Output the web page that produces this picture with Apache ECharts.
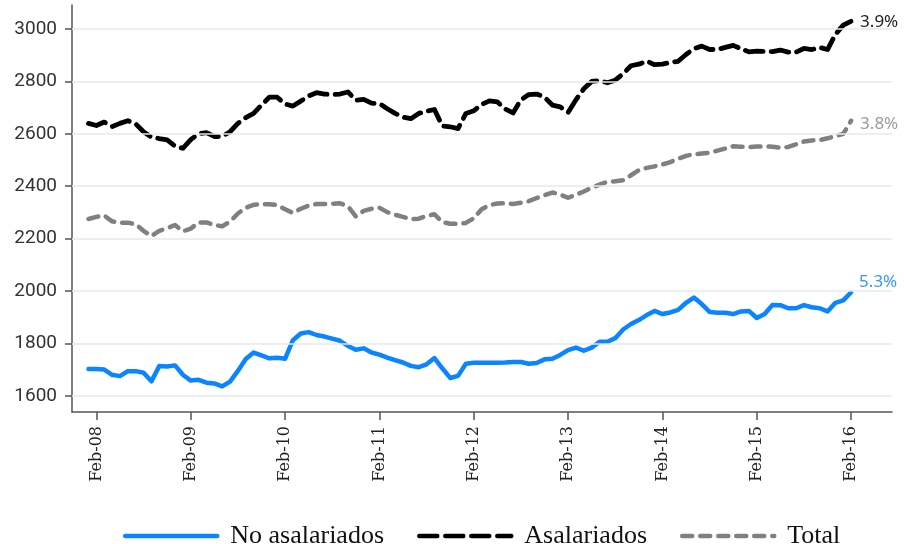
<!DOCTYPE html>
<html>
<head>
<meta charset="utf-8">
<script src="https://cdn.jsdelivr.net/npm/echarts@6/dist/echarts.min.js"></script>
<style>
  html, body { margin: 0; padding: 0; background: #fff; }
  #chart { width: 904px; height: 544px; }
</style>
</head>
<body>
<div id="chart"></div>
<script>
// Monthly series, January 2008 (index 0) to February 2016 (index 97)
const noAsalariados = [
  1702, 1702, 1700, 1680, 1675, 1694, 1694, 1688, 1655, 1714, 1712, 1716,
  1680, 1658, 1661, 1650, 1647, 1636, 1654, 1695, 1740, 1765, 1754, 1743,
  1745, 1741, 1812, 1838, 1843, 1832, 1826, 1818, 1810, 1790, 1776, 1781,
  1765, 1757, 1746, 1736, 1727, 1714, 1709, 1720, 1744, 1705, 1668, 1676,
  1722, 1726, 1726, 1726, 1726, 1727, 1729, 1729, 1722, 1725, 1739, 1741,
  1756, 1774, 1784, 1772, 1784, 1806, 1806, 1820, 1853, 1874, 1889, 1908,
  1924, 1912, 1918, 1928, 1955, 1975, 1950, 1920, 1917, 1917, 1912, 1922,
  1924, 1897, 1912, 1947, 1946, 1934, 1934, 1946, 1938, 1934, 1922, 1955,
  1964, 1995
];
const asalariados = [
  2640, 2632, 2645, 2628, 2640, 2650, 2638, 2608, 2588, 2582, 2577, 2553,
  2545, 2578, 2600, 2605, 2590, 2590, 2608, 2640, 2662, 2678, 2710, 2740,
  2740, 2714, 2706, 2725, 2745, 2757, 2752, 2750, 2752, 2760, 2728, 2732,
  2717, 2716, 2696, 2678, 2664, 2658, 2678, 2686, 2693, 2630, 2627, 2620,
  2678, 2688, 2712, 2726, 2722, 2695, 2680, 2730, 2750, 2752, 2740, 2710,
  2703, 2682, 2730, 2772, 2800, 2803, 2795, 2805, 2830, 2860, 2866, 2878,
  2864, 2866, 2873, 2877, 2903, 2925, 2935, 2922, 2922, 2930, 2938, 2925,
  2913, 2916, 2915, 2914, 2920, 2912, 2912, 2926, 2922, 2930, 2922, 2980,
  3015, 3030
];
const total = [
  2275, 2283, 2288, 2266, 2261, 2261, 2255, 2230, 2210, 2230, 2240, 2252,
  2228, 2238, 2262, 2262, 2252, 2247, 2265, 2296, 2318, 2329, 2331, 2331,
  2328, 2312, 2298, 2314, 2326, 2332, 2332, 2333, 2335, 2323, 2285, 2306,
  2314, 2318, 2301, 2291, 2283, 2275, 2276, 2287, 2293, 2263, 2257, 2256,
  2260, 2278, 2312, 2328, 2334, 2335, 2332, 2337, 2343, 2355, 2366, 2376,
  2368, 2356, 2367, 2380, 2394, 2406, 2417, 2419, 2423, 2442, 2461, 2470,
  2476, 2483, 2492, 2505, 2516, 2522, 2525, 2528, 2536, 2544, 2553, 2551,
  2549, 2552, 2552, 2551, 2547, 2550, 2560, 2571, 2575, 2576, 2583, 2591,
  2600, 2650
];

// Axis ticks: x in months since January 2008
const xTickMonths = [1, 13, 25, 37, 49, 61, 73, 85, 97];
const xTickLabels = ['Feb-08', 'Feb-09', 'Feb-10', 'Feb-11', 'Feb-12', 'Feb-13', 'Feb-14', 'Feb-15', 'Feb-16'];
const yTicks = [1600, 1800, 2000, 2200, 2400, 2600, 2800, 3000];

// Growth labels at the end of each line
const seriesNames = ['No asalariados', 'Asalariados', 'Total'];
const endLabels = ['5.3%', '3.9%', '3.8%'];

const pairs = arr => arr.map((v, i) => [i, v]);

const chart = echarts.init(document.getElementById('chart'), null, { renderer: 'canvas' });

const axisColor = '#555';

const option = {
  animation: false,
  backgroundColor: '#fff',
  grid: { left: 72, right: 12, top: 5, bottom: 132, containLabel: false },
  xAxis: {
    type: 'value',
    min: -2.1,
    max: 102.2,
    axisLine: { show: true, onZero: false, lineStyle: { color: axisColor, width: 1.5 } },
    axisTick: { show: true, customValues: xTickMonths, length: 8, lineStyle: { color: axisColor, width: 1.5 } },
    axisLabel: {
      customValues: xTickMonths,
      rotate: 90,
      margin: 14,
      fontFamily: 'DejaVu Serif',
      fontSize: 16,
      color: '#222',
      formatter: v => xTickLabels[xTickMonths.indexOf(Math.round(v))] || ''
    },
    splitLine: { show: false }
  },
  yAxis: {
    type: 'value',
    min: 1538,
    max: 3092,
    axisLine: { show: true, onZero: false, lineStyle: { color: axisColor, width: 1.5 } },
    axisTick: { show: true, customValues: yTicks, length: 7, lineStyle: { color: axisColor, width: 1.5 } },
    axisLabel: {
      customValues: yTicks,
      margin: 15,
      fontFamily: 'Roboto',
      fontSize: 19,
      color: '#333',
      formatter: v => String(Math.round(v))
    },
    splitLine: { show: false }
  },
  legend: {
    data: seriesNames,
    left: 118,
    top: 518,
    itemWidth: 92,
    itemHeight: 14,
    itemGap: 33,
    itemStyle: { opacity: 0 },
    lineStyle: { width: 4.5 },
    textStyle: {
      fontFamily: 'Liberation Serif',
      fontSize: 26,
      color: '#111',
      padding: [0, 0, 0, 8]
    }
  },
  series: [
    {
      name: 'grid',
      type: 'line',
      data: [],
      z: 1,
      silent: true,
      markLine: {
        silent: true,
        symbol: ['none', 'none'],
        label: { show: false },
        lineStyle: { color: '#e8e8e8', width: 1.5, type: 'solid' },
        data: yTicks.map(v => ({ yAxis: v }))
      }
    },
    {
      name: seriesNames[0],
      type: 'line',
      data: pairs(noAsalariados),
      symbol: 'none',
      z: 3,
      color: '#0a84ff',
      lineStyle: { color: '#0a84ff', width: 4.5, join: 'round', cap: 'round' },
      endLabel: {
        show: true,
        formatter: endLabels[0],
        distance: 8,
        offset: [0, -10],
        fontFamily: 'Noto Sans',
        fontSize: 17,
        color: '#3a97ff'
      }
    },
    {
      name: seriesNames[1],
      type: 'line',
      data: pairs(asalariados),
      symbol: 'none',
      z: 3,
      color: '#000',
      lineStyle: { color: '#000', width: 4.8, type: [18, 8], cap: 'round', join: 'round' },
      endLabel: {
        show: true,
        formatter: endLabels[1],
        distance: 9,
        offset: [0, 1],
        fontFamily: 'Noto Sans',
        fontSize: 17,
        color: '#222'
      }
    },
    {
      name: seriesNames[2],
      type: 'line',
      data: pairs(total),
      symbol: 'none',
      z: 3,
      color: '#808080',
      lineStyle: { color: '#808080', width: 4.5, type: [10, 8], cap: 'round', join: 'round' },
      endLabel: {
        show: true,
        formatter: endLabels[2],
        distance: 9,
        offset: [0, 3],
        fontFamily: 'Noto Sans',
        fontSize: 17,
        color: '#9a9a9a'
      }
    }
  ]
};

chart.setOption(option);
</script>
</body>
</html>
